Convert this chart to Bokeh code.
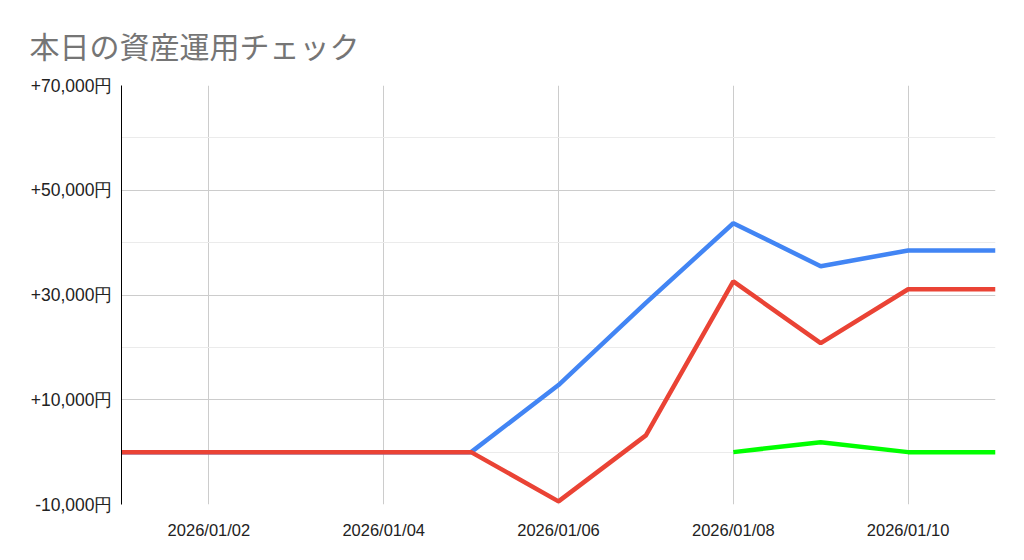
from datetime import datetime
from bokeh.plotting import figure
from bokeh.models import FixedTicker, DatetimeTickFormatter, Range1d
from bokeh.embed import file_html
from bokeh.resources import INLINE

dates = [datetime(2026, 1, d) for d in range(1, 12)]
blue = [0, 0, 0, 0, 0, 12800, 28500, 43700, 35500, 38500, 38500]
red = [0, 0, 0, 0, 0, -9400, 3200, 32600, 20800, 31100, 31100]
green_dates = [datetime(2026, 1, d) for d in range(8, 12)]
green = [0, 1900, 0, 0]

y_major = [-10000, 10000, 30000, 50000, 70000]
y_minor = [0, 20000, 40000, 60000]
y_labels = {v: ("+" if v > 0 else "") + f"{v:,}円" for v in y_major}
x_tick_dates = [datetime(2026, 1, d) for d in (2, 4, 6, 8, 10)]
title_text = "本日の資産運用チェック"

W, H = 1008, 544
p = figure(width=W, height=H, x_axis_type="datetime", output_backend="svg",
           toolbar_location=None, min_border_left=121, min_border_right=13,
           min_border_top=85, min_border_bottom=40)
p.x_range = Range1d(dates[0], dates[-1])
p.y_range = Range1d(-10000, 70000)
p.outline_line_color = None
p.background_fill_color = "white"
p.border_fill_color = "white"

p.title.text = title_text
p.title.text_font = "Noto Sans CJK JP"
p.title.text_font_size = "30px"
p.title.text_font_style = "normal"
p.title.text_color = "#757575"
p.title.align = "left"
p.title.offset = -92
p.title.standoff = 38

epoch = datetime(1970, 1, 1)
xt = [(d - epoch).total_seconds() * 1000 for d in x_tick_dates]
p.xaxis.ticker = FixedTicker(ticks=xt)
fmt = "%Y/%m/%d"
p.xaxis.formatter = DatetimeTickFormatter(days=fmt, months=fmt, years=fmt, hours=fmt,
                                          hourmin=fmt, minutes=fmt, minsec=fmt, seconds=fmt,
                                          milliseconds=fmt, microseconds=fmt)
p.yaxis.ticker = FixedTicker(ticks=y_major, minor_ticks=y_minor)
p.yaxis.major_label_overrides = y_labels

for ax in (p.xaxis, p.yaxis):
    ax.major_tick_line_color = None
    ax.minor_tick_line_color = None
    ax.major_label_text_font = "Liberation Sans"
    ax.major_label_text_color = "#222222"
p.xaxis.major_label_text_font_size = "16.5px"
p.yaxis.major_label_text_font_size = "17.5px"
p.xaxis.axis_line_color = None
p.xaxis.major_label_standoff = 10
p.yaxis.axis_line_color = "black"
p.yaxis.axis_line_width = 1
p.yaxis.major_label_standoff = 3

p.xgrid.grid_line_color = "#cccccc"
p.ygrid.grid_line_color = "#cccccc"
p.ygrid.minor_grid_line_color = "#ebebeb"

p.line(dates, blue, line_color="#4285F4", line_width=4.5)
p.line(dates, red, line_color="#EA4335", line_width=4.5)
p.line(green_dates, green, line_color="#00FF00", line_width=4.5)

open("out.html", "w").write(file_html(p, INLINE))
